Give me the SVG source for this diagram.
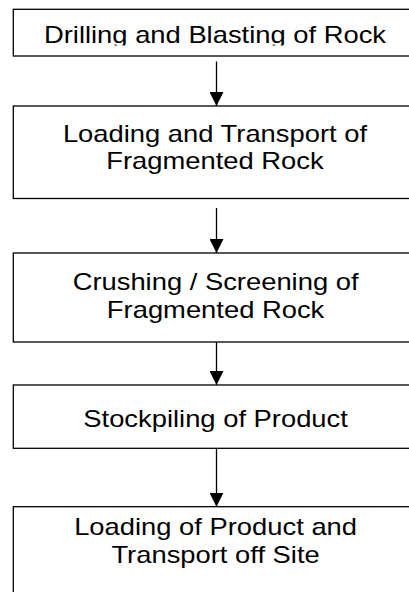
<svg xmlns="http://www.w3.org/2000/svg" width="409" height="592" viewBox="0 0 409 592">
<style>
.box{fill:#fff;stroke:#000;stroke-width:1.3}
.lbl{font-family:"Liberation Sans",Arial,sans-serif;font-size:23px;fill:#000;text-anchor:middle}
.con{stroke:#000;stroke-width:1.3;fill:none;marker-end:url(#ah)}
</style>
<defs>
<marker id="ah" markerUnits="userSpaceOnUse" markerWidth="15" markerHeight="14" refX="14" refY="7" orient="auto">
<path d="M0,0 L14,7 L0,14 Z" fill="#000"/>
</marker>
<clipPath id="c1"><rect x="13" y="10" width="400" height="35.5"/></clipPath>
</defs>
<rect width="409" height="592" fill="#fff"/>
<g id="n1">
<rect class="box" x="13.3" y="9.3" width="406" height="46.7"/>
<g clip-path="url(#c1)"><g transform="matrix(1.19,0,0,1,-40.85,0)"><text class="lbl" x="215" y="43.3">Drilling and Blasting of Rock</text></g></g>
</g>
<g id="n2">
<rect class="box" x="13.3" y="106" width="406" height="92.5"/>
<g transform="matrix(1.19,0,0,1,-40.85,0)"><text class="lbl" x="215" y="141.7">Loading and Transport of</text><text class="lbl" x="215" y="169.3">Fragmented Rock</text></g>
</g>
<g id="n3">
<rect class="box" x="13.3" y="253" width="406" height="89"/>
<g transform="matrix(1.19,0,0,1,-40.85,0)"><text class="lbl" x="215.5" y="290">Crushing / Screening of</text><text class="lbl" x="215.5" y="318">Fragmented Rock</text></g>
</g>
<g id="n4">
<rect class="box" x="13.3" y="385" width="406" height="63.3"/>
<g transform="matrix(1.19,0,0,1,-40.85,0)"><text class="lbl" x="215.5" y="426.7">Stockpiling of Product</text></g>
</g>
<g id="n5">
<rect class="box" x="13.3" y="506.7" width="406" height="100"/>
<g transform="matrix(1.19,0,0,1,-40.85,0)"><text class="lbl" x="215.5" y="535">Loading of Product and</text><text class="lbl" x="215.5" y="563">Transport off Site</text></g>
</g>
<g id="connectors">
<line class="con" x1="216.5" y1="61.5" x2="216.5" y2="106"/>
<line class="con" x1="216.5" y1="208" x2="216.5" y2="253"/>
<line class="con" x1="216.5" y1="342" x2="216.5" y2="385"/>
<line class="con" x1="216.5" y1="448.3" x2="216.5" y2="506.7"/>
</g>
</svg>
